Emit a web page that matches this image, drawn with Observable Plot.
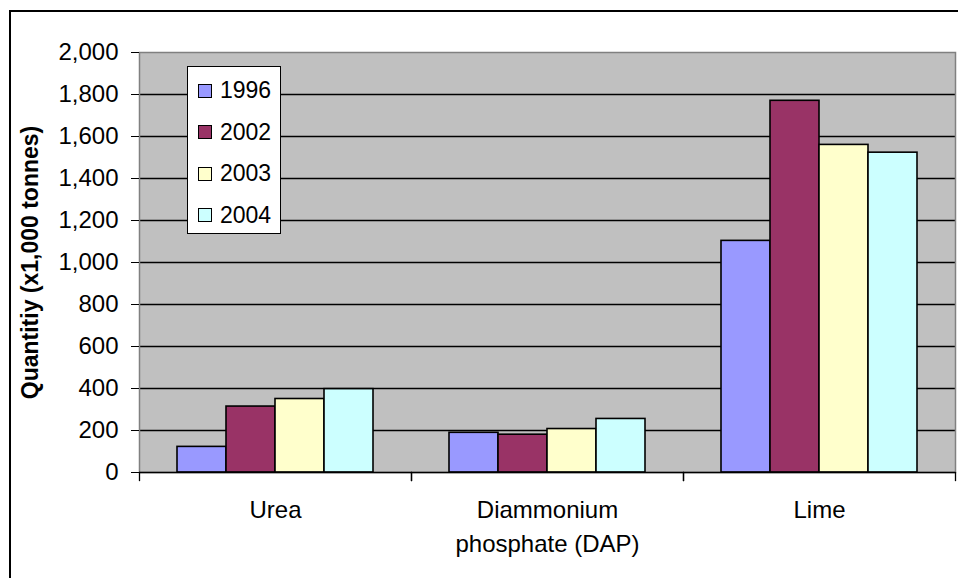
<!DOCTYPE html>
<html><head><meta charset="utf-8">
<script src="https://cdn.jsdelivr.net/npm/d3@7"></script>
<script src="https://cdn.jsdelivr.net/npm/@observablehq/plot@0.6"></script>
<style>
body{margin:0;background:#fff;font-family:"Liberation Sans",Arial,sans-serif}
#wrap{position:relative;width:958px;height:578px;overflow:hidden}
#outer{position:absolute;left:9px;top:10px;right:-10px;bottom:-10px;border-top:2px solid #000;border-left:2px solid #000;pointer-events:none}
#chart{position:absolute;left:0;top:0}
#legend{position:absolute;left:187px;top:66px;width:94px;height:168px;background:#fff;border:1px solid #000;padding-top:3px;box-sizing:border-box;font-size:23px}
#legend .it{height:41.5px;display:flex;align-items:center;padding-left:10px}
#legend .sw{width:12px;height:12px;border:1px solid #000;margin-right:8px}
g[aria-label="y-axis label"] text{font-weight:bold;font-size:23px}
</style></head>
<body><div id="wrap"><div id="chart"></div><div id="outer"></div><div id="legend"></div></div>
<script>
const categories = ["Urea", "Diammonium phosphate (DAP)", "Lime"];
const years = ["1996", "2002", "2003", "2004"];
const v1996 = [122, 189, 1103];
const v2002 = [314, 180, 1770];
const v2003 = [350, 207, 1560];
const v2004 = [397, 255, 1523];
const colors = ["#9999ff", "#993366", "#ffffcc", "#ccffff"];
const yTicks = [0, 200, 400, 600, 800, 1000, 1200, 1400, 1600, 1800, 2000];

const series = [v1996, v2002, v2003, v2004];
const rows = [];
categories.forEach((c, i) => years.forEach((y, j) => rows.push({cat: c, year: y, value: series[j][i]})));

const chart = Plot.plot({
  width: 958, height: 578,
  marginLeft: 139, marginRight: 3, marginTop: 52, marginBottom: 106,
  style: {fontFamily: "Liberation Sans, Arial, sans-serif", fontSize: "24px", color: "#000", background: "transparent", overflow: "visible"},
  fx: {domain: categories, padding: 0, label: null},
  x: {domain: years, paddingInner: 0, paddingOuter: 0.75, axis: null},
  y: {domain: [0, 2000], label: null},
  color: {domain: years, range: colors},
  marks: [
    Plot.frame({fill: "#c0c0c0", facet: "super"}),
    Plot.gridY(yTicks.slice(1, -1), {stroke: "#000", strokeOpacity: 1, strokeWidth: 1.3}),
    Plot.frame({stroke: "#808080", strokeWidth: 1.5, facet: "super"}),
    Plot.barY(rows, {fx: "cat", x: "year", y: "value", fill: "year", stroke: "#000", strokeWidth: 1.6}),
    Plot.ruleY([0], {stroke: "#000", strokeWidth: 1.5}),
    Plot.frame({anchor: "left", stroke: "#000", strokeWidth: 1.3, insetTop: 420, insetBottom: -8}),
    Plot.frame({anchor: "right", stroke: "#000", strokeWidth: 1.3, insetTop: 420, insetBottom: -8}),
    Plot.axisY(yTicks, {tickSize: 8, tickPadding: 13, tickFormat: d3.format(","), fontSize: 24,
      label: "Quantitiy (x1,000 tonnes)", labelAnchor: "center", labelArrow: "none", labelOffset: 118}),
    Plot.axisFx({anchor: "bottom", tickSize: 0, tickPadding: 22, lineHeight: 1.4, fontSize: 24, label: null,
      tickFormat: d => d.replace(" phosphate", "\nphosphate")})
  ]
});
document.getElementById("chart").append(chart);

const leg = document.getElementById("legend");
years.forEach((y, i) => {
  const it = document.createElement("div"); it.className = "it";
  const sw = document.createElement("div"); sw.className = "sw"; sw.style.background = colors[i];
  const t = document.createElement("span"); t.textContent = y;
  it.append(sw, t); leg.append(it);
});
</script>
</body></html>
